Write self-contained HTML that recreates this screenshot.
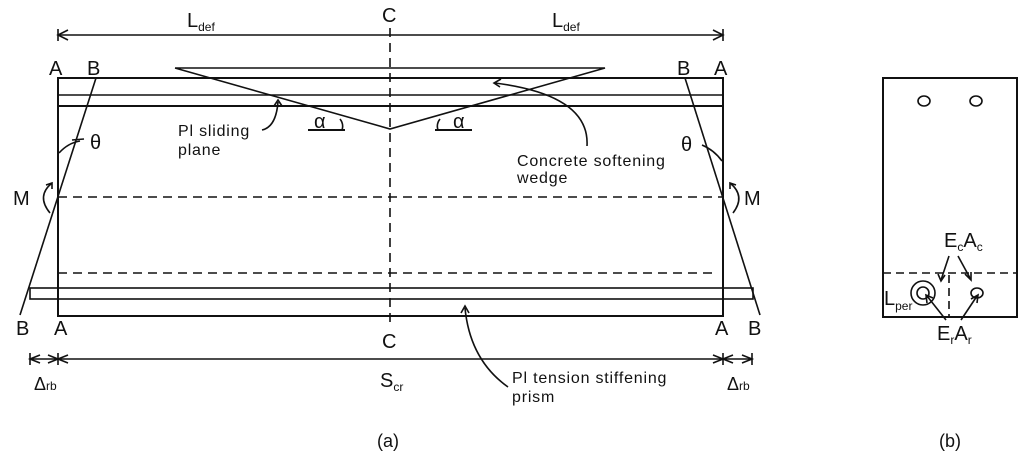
<!DOCTYPE html>
<html><head><style>body{margin:0;background:#fff}svg{display:block}text{font-family:"Liberation Sans",sans-serif;fill:#111}</style></head><body>
<svg width="1024" height="464" viewBox="0 0 1024 464" xmlns="http://www.w3.org/2000/svg">
<g stroke="#111" fill="none" stroke-width="1.6">
<line x1="58" y1="35" x2="723" y2="35"/>
<polyline points="68,30 58,35 68,40"/><line x1="58" y1="29" x2="58" y2="41"/>
<polyline points="713,30 723,35 713,40"/><line x1="723" y1="29" x2="723" y2="41"/>
<rect x="58" y="78" width="665" height="238" stroke-width="2"/>
<line x1="58" y1="95" x2="723" y2="95"/>
<line x1="58" y1="106" x2="723" y2="106" stroke-width="2"/>
<rect x="30" y="288" width="723" height="11"/>
<line x1="390" y1="28" x2="390" y2="326" stroke-dasharray="9,6"/>
<line x1="58" y1="197" x2="723" y2="197" stroke-dasharray="9,6"/>
<line x1="58" y1="273" x2="718" y2="273" stroke-dasharray="9,6"/>
<polyline points="175,68 605,68 390,129 175,68" fill="none"/>
<line x1="308" y1="130" x2="345" y2="130" stroke-width="2"/>
<line x1="435" y1="130" x2="472" y2="130" stroke-width="2"/>
<path d="M340,119 Q344,124 342,130"/><path d="M440,119 Q436,124 438,130"/>
<line x1="96" y1="78" x2="20" y2="315"/>
<line x1="685" y1="78" x2="760" y2="315"/>
<path d="M59,153 Q68,143 80,141"/><line x1="72" y1="140" x2="84" y2="139"/>
<path d="M722,161 Q714,150 702,145"/>
<path d="M52,183 Q36,196 50,213"/><polyline points="46,185 52,183 52,189"/>
<path d="M730,183 Q746,196 733,213"/><polyline points="730,189 730,183 736,185"/>
<path d="M262,130 Q276,127 278,102"/><polyline points="274,106 278,100 282,106"/>
<path d="M587,146 Q590,95 495,83"/><polyline points="501,79 494,83 500,87"/>
<path d="M508,387 Q470,360 465,308"/><polyline points="461,313 465,306 469,313"/>
<line x1="30" y1="359" x2="752" y2="359"/>
<line x1="30" y1="353" x2="30" y2="365"/><polyline points="40,355 30,359 40,363"/>
<polyline points="48,355 58,359 48,363"/><polyline points="68,355 58,359 68,363"/><line x1="58" y1="353" x2="58" y2="365"/>
<polyline points="713,355 723,359 713,363"/><polyline points="733,355 723,359 733,363"/><line x1="723" y1="353" x2="723" y2="365"/>
<polyline points="742,355 752,359 742,363"/><line x1="752" y1="353" x2="752" y2="365"/>
<rect x="883" y="78" width="134" height="239" stroke-width="2"/>
<ellipse cx="924" cy="101" rx="6" ry="5"/><ellipse cx="976" cy="101" rx="6" ry="5"/>
<line x1="883" y1="273" x2="1017" y2="273" stroke-dasharray="8,5"/>
<line x1="949" y1="275" x2="949" y2="317" stroke-dasharray="8,5"/>
<circle cx="923" cy="293" r="6"/><circle cx="923" cy="293" r="12"/>
<ellipse cx="977" cy="293" rx="6" ry="5"/>
<line x1="949" y1="256" x2="941" y2="280"/><polyline points="938,274 941,281 945,275"/>
<line x1="958" y1="256" x2="970" y2="278"/><polyline points="965,274 971,280 971,272"/>
<line x1="946" y1="320" x2="927" y2="296"/><polyline points="927,303 926,295 933,298"/>
<line x1="961" y1="320" x2="977" y2="296"/><polyline points="971,299 978,295 977,303"/>
</g>
<g font-size="20">
<text x="187" y="27">L<tspan font-size="12" dy="4">def</tspan></text>
<text x="552" y="27">L<tspan font-size="12" dy="4">def</tspan></text>
<text x="382" y="22">C</text><text x="382" y="348">C</text>
<text x="49" y="75">A</text><text x="87" y="75">B</text>
<text x="677" y="75">B</text><text x="714" y="75">A</text>
<text x="16" y="335">B</text><text x="54" y="335">A</text>
<text x="715" y="335">A</text><text x="748" y="335">B</text>
<text x="90" y="149">θ</text><text x="681" y="151">θ</text>
<text x="13" y="205">M</text><text x="744" y="205">M</text>
<text x="314" y="128">α</text><text x="453" y="128">α</text>
<text x="34" y="390" font-size="18">Δ<tspan font-size="12">rb</tspan></text>
<text x="727" y="390" font-size="18">Δ<tspan font-size="12">rb</tspan></text>
<text x="380" y="387">S<tspan font-size="12" dy="4">cr</tspan></text>
<text x="944" y="247">E<tspan font-size="12" dy="4">c</tspan><tspan dy="-4">A</tspan><tspan font-size="12" dy="4">c</tspan></text>
<text x="937" y="340">E<tspan font-size="12" dy="4">r</tspan><tspan dy="-4">A</tspan><tspan font-size="12" dy="4">r</tspan></text>
<text x="884" y="305">L<tspan font-size="12" dy="5">per</tspan></text>
<text x="377" y="447" font-size="18">(a)</text>
<text x="939" y="447" font-size="18">(b)</text>
</g>
<g font-size="16" letter-spacing="0.8">
<text x="178" y="136">Pl sliding</text><text x="178" y="155">plane</text>
<text x="517" y="166">Concrete softening</text><text x="517" y="183">wedge</text>
<text x="512" y="383">Pl tension stiffening</text><text x="512" y="402">prism</text>
</g>
</svg>
</body></html>
